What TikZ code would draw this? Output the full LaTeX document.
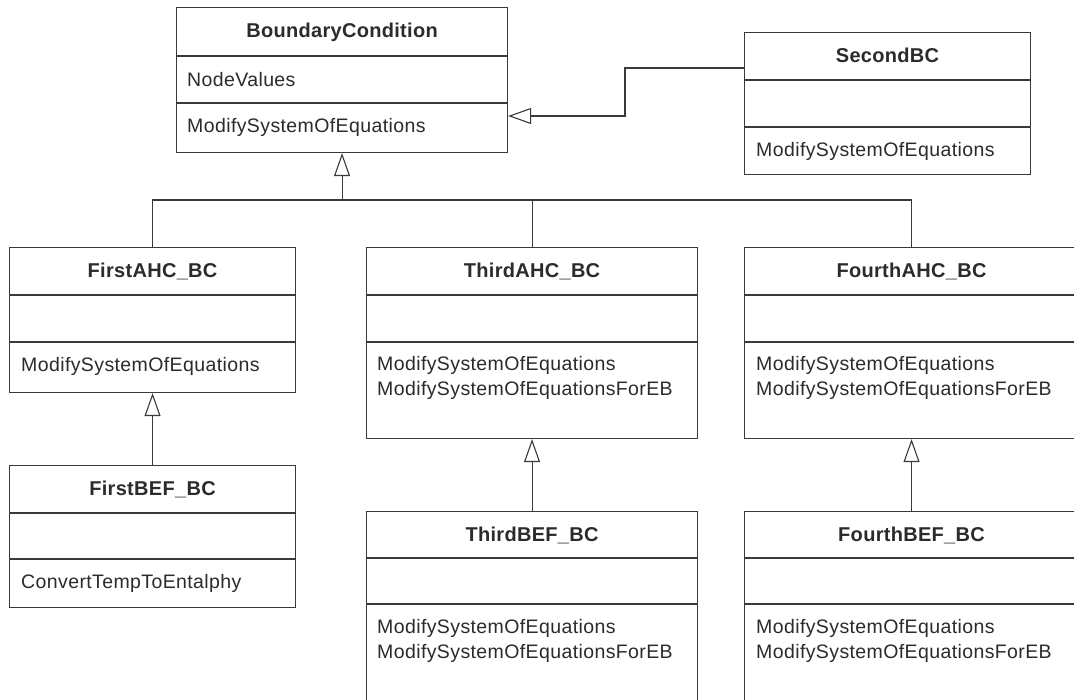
\documentclass[tikz,border=0pt]{standalone}
\usepackage{fontspec}
\setmainfont{Liberation Sans}
\newfontfamily\titlefont[LetterSpace=1.5]{Liberation Sans}
\newfontfamily\memberfont[LetterSpace=2]{Liberation Sans}
\usetikzlibrary{arrows.meta}

\definecolor{ink}{HTML}{3A3A3A}
\definecolor{type}{HTML}{2B2B2B}

\tikzset{
  x=1pt, y=-1pt,
  classbox/.style={draw=ink, line width=1.1pt, fill=white, rectangle,
                   inner sep=0pt, anchor=north west},
  rule/.style={draw=ink, line width=1.1pt},
  classname/.style={font=\titlefont\bfseries\fontsize{20}{24}\selectfont,
                    text=type, anchor=base, inner sep=0pt},
  member/.style={font=\memberfont\fontsize{19.5}{26}\selectfont,
                 text=type, anchor=base west, inner sep=0pt},
  link/.style={draw=ink, line width=1.1pt},
  inherits/.style={link, -{Triangle[open, length=23pt, width=16pt]}},
}

% class box: name, top-left corner, width, height, first and second divider offsets
\newcommand\umlbox[6]{%
  \node[classbox, minimum width=#3pt, minimum height=#4pt] (#1) at (#2) {};
  \draw[rule] ([yshift=-#5pt]#1.north west) -- ([yshift=-#5pt]#1.north east);
  \draw[rule] ([yshift=-#6pt]#1.north west) -- ([yshift=-#6pt]#1.north east);
}

\begin{document}
\begin{tikzpicture}
\useasboundingbox (0,0) rectangle (1074,700);
\clip (0,0) rectangle (1074,700);
\fill[white] (0,0) rectangle (1074,700);

% classes
\umlbox{bc}{176,7}{331}{145}{49}{96}
\umlbox{second}{744,32}{286}{142}{48}{95}
\umlbox{firstAHC}{9,247}{286}{145}{48}{95}
\umlbox{thirdAHC}{366,247}{331}{191}{48}{95}
\umlbox{fourthAHC}{744,247}{334}{191}{48}{95}
\umlbox{firstBEF}{9,465}{286}{142}{48}{94}
\umlbox{thirdBEF}{366,511}{331}{230}{47}{93}
\umlbox{fourthBEF}{744,511}{334}{230}{47}{93}

% class names and members
\node[classname] (bc-name) at ([yshift=-31pt]bc.north) {BoundaryCondition};
\node[member] (bc-attr) at ([xshift=11pt,yshift=-80pt]bc.north west) {NodeValues};
\node[member] (bc-op) at ([xshift=11pt,yshift=-126pt]bc.north west) {ModifySystemOfEquations};

\node[classname] (second-name) at ([yshift=-31pt]second.north) {SecondBC};
\node[member] (second-op) at ([xshift=12pt,yshift=-125pt]second.north west) {ModifySystemOfEquations};

\node[classname] (firstAHC-name) at ([yshift=-31pt]firstAHC.north) {FirstAHC\_BC};
\node[member] (firstAHC-op) at ([xshift=12pt,yshift=-125pt]firstAHC.north west) {ModifySystemOfEquations};

\node[classname] (thirdAHC-name) at ([yshift=-31pt]thirdAHC.north) {ThirdAHC\_BC};
\node[member] (thirdAHC-op1) at ([xshift=11pt,yshift=-124pt]thirdAHC.north west) {ModifySystemOfEquations};
\node[member] (thirdAHC-op2) at ([xshift=11pt,yshift=-149pt]thirdAHC.north west) {ModifySystemOfEquationsForEB};

\node[classname] (fourthAHC-name) at ([yshift=-31pt]fourthAHC.north) {FourthAHC\_BC};
\node[member] (fourthAHC-op1) at ([xshift=12pt,yshift=-124pt]fourthAHC.north west) {ModifySystemOfEquations};
\node[member] (fourthAHC-op2) at ([xshift=12pt,yshift=-149pt]fourthAHC.north west) {ModifySystemOfEquationsForEB};

\node[classname] (firstBEF-name) at ([yshift=-30pt]firstBEF.north) {FirstBEF\_BC};
\node[member] (firstBEF-op) at ([xshift=12pt,yshift=-123pt]firstBEF.north west) {ConvertTempToEntalphy};

\node[classname] (thirdBEF-name) at ([yshift=-30pt]thirdBEF.north) {ThirdBEF\_BC};
\node[member] (thirdBEF-op1) at ([xshift=11pt,yshift=-122pt]thirdBEF.north west) {ModifySystemOfEquations};
\node[member] (thirdBEF-op2) at ([xshift=11pt,yshift=-147pt]thirdBEF.north west) {ModifySystemOfEquationsForEB};

\node[classname] (fourthBEF-name) at ([yshift=-30pt]fourthBEF.north) {FourthBEF\_BC};
\node[member] (fourthBEF-op1) at ([xshift=12pt,yshift=-122pt]fourthBEF.north west) {ModifySystemOfEquations};
\node[member] (fourthBEF-op2) at ([xshift=12pt,yshift=-147pt]fourthBEF.north west) {ModifySystemOfEquationsForEB};

% generalisation links
\coordinate (bar) at (0,200);
\draw[link] (firstAHC.north) |- (bar -| fourthAHC.north) -- (fourthAHC.north);
\draw[link] (thirdAHC.north) -- (thirdAHC.north |- bar);
\draw[inherits] (bc.south |- bar) -- (bc.south);

\coordinate (kink) at (625,116);
\draw[inherits] ([yshift=-36pt]second.north west) -| (kink) -- (kink -| bc.east);

\draw[inherits] (firstBEF.north) -- (firstAHC.south);
\draw[inherits] (thirdBEF.north) -- (thirdAHC.south);
\draw[inherits] (fourthBEF.north) -- (fourthAHC.south);
\end{tikzpicture}
\end{document}
